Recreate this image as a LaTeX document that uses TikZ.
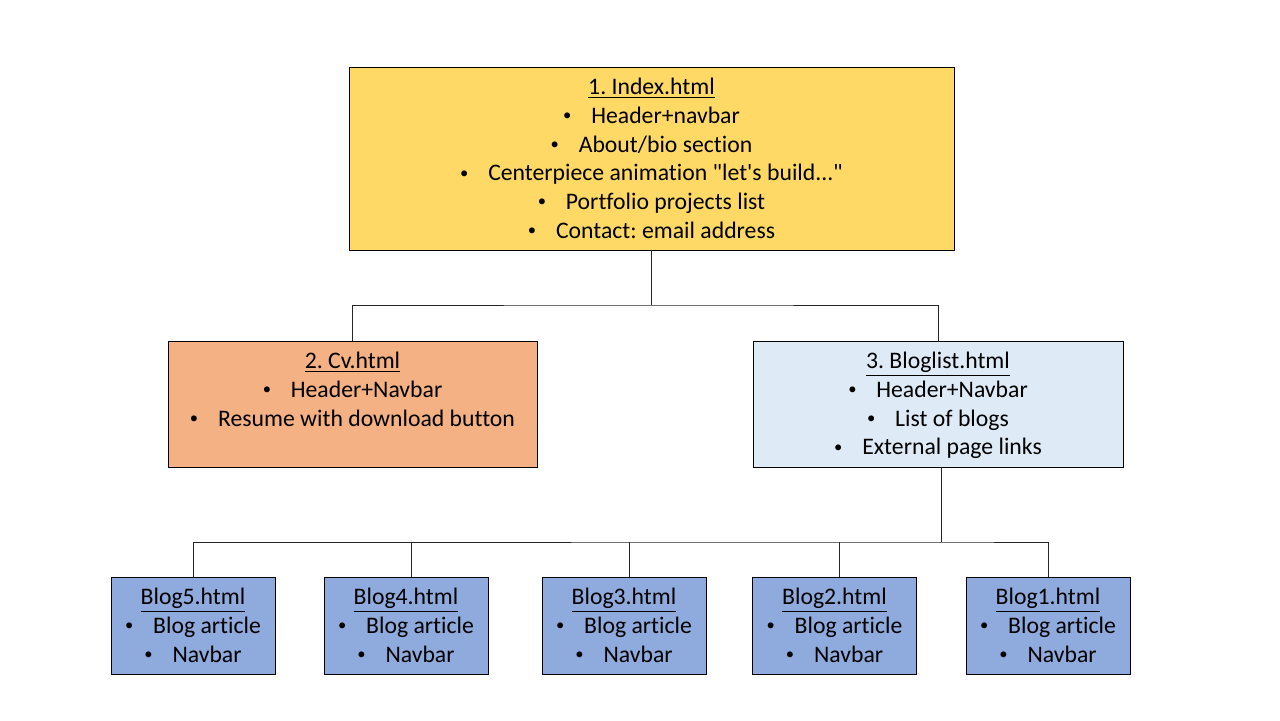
\documentclass[tikz,border=0pt]{standalone}
\usepackage{fontspec}
\setmainfont{Carlito}[Ligatures = NoCommon]
\usetikzlibrary{positioning}
\frenchspacing
\definecolor{indexgold}{HTML}{FFD966}
\definecolor{cvorange}{HTML}{F4B183}
\definecolor{listblue}{HTML}{DEEBF7}
\definecolor{blogblue}{HTML}{8FAADC}
\tikzset{page/.style = {draw = black, line width = 0.5pt, inner sep = 0pt,
                        font = \fontsize{13.5}{16.4}\selectfont},
         link/.style = {draw = black!85, line width = 0.5pt}}
\newcommand{\itm}{\makebox[16pt][l]{\raisebox{0.25ex}{\scalebox{0.7}{\textbullet}}}}
\newcommand{\pagetext}[3]{\parbox[c][#2][t]{#1}{\centering\rule{0pt}{15.6pt}#3}}

\begin{document}
\begin{tikzpicture}[x=0.02cm, y=-0.02cm]
     \useasboundingbox (0, 0) rectangle (1280, 720);
     \node [page, fill = indexgold] (index) at (651.5, 158.5)
          {\pagetext{12.1cm}{3.66cm}{\underline{1. Index.html}\\ \itm Header+navbar\\ \itm About/bio section\\
           \itm Centerpiece animation \textquotedbl let\textquotesingle s build...\textquotedbl\\ \itm Portfolio projects list\\ \itm Contact: email address}};
     \node [page, fill = cvorange] (cv) at (352.5, 404)
          {\pagetext{7.38cm}{2.52cm}{\underline{2. Cv.html}\\ \itm Header+Navbar\\ \itm Resume with download button}};
     \node [page, fill = listblue] (bloglist) at (938, 404)
          {\pagetext{7.4cm}{2.52cm}{\underline{3. Bloglist.html}\\ \itm Header+Navbar\\ \itm List of blogs\\ \itm External page links}};
     \foreach \n/\x in {5/193, 4/406, 3/624, 2/834.5, 1/1048}
          \node [page, fill = blogblue] (blog\n) at (\x, 625.5)
               {\pagetext{3.28cm}{1.94cm}{\underline{Blog\n.html}\\ \itm Blog article\\ \itm Navbar}};
     \coordinate (split) at (651.5, 305);
     \coordinate (bus) at (941, 542);
     \draw [link] (index.south) -- (split);
     \draw [link] (cv.north) |- (split) -| (bloglist.north);
     \draw [link] ([xshift=0.06cm]bloglist.south) -- ([xshift=0.06cm]bloglist.south |- bus);
     \draw [link] (blog5.north) |- (bus) -| (blog1.north);
     \foreach \n in {4, 3, 2}
          \draw [link] ([xshift=0.1cm]blog\n.north) -- ([xshift=0.1cm]blog\n.north |- bus);
\end{tikzpicture}
\end{document}
